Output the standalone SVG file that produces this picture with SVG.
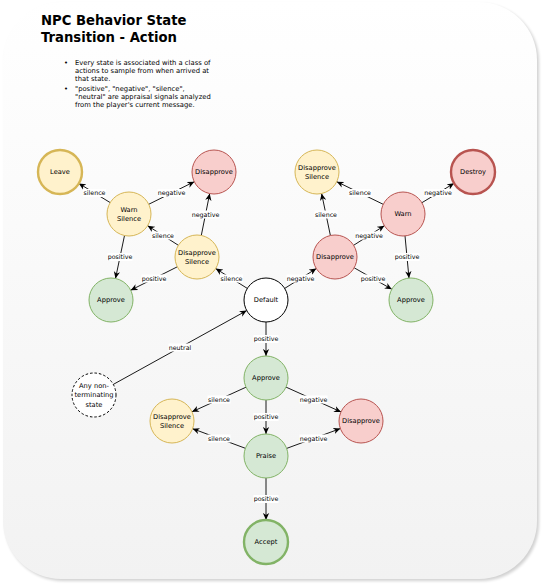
<svg xmlns="http://www.w3.org/2000/svg" width="542" height="586" viewBox="0 0 542 586">
<style>
.title{font-family:"DejaVu Sans",Verdana,sans-serif;font-weight:bold;font-size:13.2px;fill:#000}
.note{font-family:"DejaVu Sans",Verdana,sans-serif;font-size:6.8px;fill:#000}
.nl{font-family:"DejaVu Sans",Verdana,sans-serif;font-size:6.7px;fill:#000;text-anchor:middle}
.el{font-family:"DejaVu Sans",Verdana,sans-serif;font-size:6.3px;fill:#000;text-anchor:middle}
.lb{fill:#fff}
.e{stroke:#000;stroke-width:0.9;fill:none;marker-end:url(#arr)}
.y{fill:#fff2cc;stroke:#d6b656;stroke-width:1}
.r{fill:#f8cecc;stroke:#b85450;stroke-width:1}
.g{fill:#d5e8d4;stroke:#82b366;stroke-width:1}
.w{fill:#fff;stroke:#000;stroke-width:1}
.thick{stroke-width:2.4}
.dash{fill:#fff;stroke:#000;stroke-width:1;stroke-dasharray:2.5 2}
</style>
<defs>
<linearGradient id="bg" x1="0" y1="0" x2="0" y2="1">
<stop offset="0" stop-color="#ffffff"/>
<stop offset="1" stop-color="#f2f2f2"/>
</linearGradient>
<filter id="sh" x="-5%" y="-5%" width="110%" height="110%">
<feGaussianBlur stdDeviation="1.5"/>
</filter>
<marker id="arr" viewBox="0 0 10 10" refX="10" refY="5" markerWidth="7" markerHeight="7" markerUnits="userSpaceOnUse" orient="auto">
<path d="M0,0.5 L10,5 L0,9.5 L3,5 Z" fill="#000"/>
</marker>
</defs>
<g id="background">
<rect x="5" y="4" width="534" height="577" rx="58" ry="58" fill="#000" opacity="0.18" filter="url(#sh)"/>
<rect x="3" y="2" width="534" height="577" rx="58" ry="58" fill="url(#bg)"/>
</g>
<g id="title">
<text class="title" x="41" y="24.5">NPC Behavior State</text>
<text class="title" x="41" y="42">Transition - Action</text>
<text class="note" x="64" y="65">•</text>
<text class="note" x="75" y="65">Every state is associated with a class of</text>
<text class="note" x="75" y="73">actions to sample from when arrived at</text>
<text class="note" x="75" y="81">that state.</text>
<text class="note" x="64" y="91">•</text>
<text class="note" x="75" y="91">"positive", "negative", "silence",</text>
<text class="note" x="75" y="99">"neutral" are appraisal signals analyzed</text>
<text class="note" x="75" y="107">from the player's current message.</text>
</g>
<g id="connectors">
<path class="e" d="M110.2,202.6 L78.8,183.4"/>
<path class="e" d="M148.7,204.3 L194.3,181.7"/>
<path class="e" d="M201.3,235.4 L209.7,193.6"/>
<path class="e" d="M178.4,245.3 L147.6,225.7"/>
<path class="e" d="M124.5,235.5 L115.5,278.5"/>
<path class="e" d="M177.3,266.8 L130.7,290.2"/>
<path class="e" d="M247.3,288.4 L215.7,268.6"/>
<path class="e" d="M284.7,288.4 L316.3,268.6"/>
<path class="e" d="M330.4,235.5 L321.6,193.5"/>
<path class="e" d="M353.6,245.3 L384.4,225.7"/>
<path class="e" d="M383.2,204.3 L336.8,181.7"/>
<path class="e" d="M421.9,202.7 L454.1,183.3"/>
<path class="e" d="M405,235.9 L409,278.1"/>
<path class="e" d="M354.2,267.8 L391.8,289.2"/>
<path class="e" d="M113.3,384.4 L246.7,310.6"/>
<path class="e" d="M266,322 L266,356"/>
<path class="e" d="M246,387.2 L192,411.8"/>
<path class="e" d="M286,387.1 L341,411.9"/>
<path class="e" d="M266,400 L266,434"/>
<path class="e" d="M245.4,448.3 L192.6,428.7"/>
<path class="e" d="M286.7,448.4 L340.3,428.6"/>
<path class="e" d="M266,478 L266,520"/>
<g id="edge-labels">
<rect class="lb" x="83" y="189" width="23" height="8"/><text class="el" x="94.5" y="195.3">silence</text>
<rect class="lb" x="157.5" y="189" width="28" height="8"/><text class="el" x="171.5" y="195.3">negative</text>
<rect class="lb" x="191.5" y="210.5" width="28" height="8"/><text class="el" x="205.5" y="216.8">negative</text>
<rect class="lb" x="151.5" y="231.5" width="23" height="8"/><text class="el" x="163" y="237.8">silence</text>
<rect class="lb" x="107.5" y="253" width="25" height="8"/><text class="el" x="120" y="259.3">positive</text>
<rect class="lb" x="141.5" y="274.5" width="25" height="8"/><text class="el" x="154" y="280.8">positive</text>
<rect class="lb" x="220" y="274.5" width="23" height="8"/><text class="el" x="231.5" y="280.8">silence</text>
<rect class="lb" x="286.5" y="274.5" width="28" height="8"/><text class="el" x="300.5" y="280.8">negative</text>
<rect class="lb" x="314.5" y="210.5" width="23" height="8"/><text class="el" x="326" y="216.8">silence</text>
<rect class="lb" x="355" y="231.5" width="28" height="8"/><text class="el" x="369" y="237.8">negative</text>
<rect class="lb" x="348.5" y="189" width="23" height="8"/><text class="el" x="360" y="195.3">silence</text>
<rect class="lb" x="424" y="189" width="28" height="8"/><text class="el" x="438" y="195.3">negative</text>
<rect class="lb" x="394.5" y="253" width="25" height="8"/><text class="el" x="407" y="259.3">positive</text>
<rect class="lb" x="360.5" y="274.5" width="25" height="8"/><text class="el" x="373" y="280.8">positive</text>
<rect class="lb" x="168.5" y="343.5" width="23" height="8"/><text class="el" x="180" y="349.8">neutral</text>
<rect class="lb" x="253.5" y="335" width="25" height="8"/><text class="el" x="266" y="341.3">positive</text>
<rect class="lb" x="207.5" y="395.5" width="23" height="8"/><text class="el" x="219" y="401.8">silence</text>
<rect class="lb" x="299.5" y="395.5" width="28" height="8"/><text class="el" x="313.5" y="401.8">negative</text>
<rect class="lb" x="253.5" y="413" width="25" height="8"/><text class="el" x="266" y="419.3">positive</text>
<rect class="lb" x="207.5" y="434.5" width="23" height="8"/><text class="el" x="219" y="440.8">silence</text>
<rect class="lb" x="299.5" y="434.5" width="28" height="8"/><text class="el" x="313.5" y="440.8">negative</text>
<rect class="lb" x="253.5" y="495" width="25" height="8"/><text class="el" x="266" y="501.3">positive</text>
</g>
</g>
<g id="node-leave"><circle class="y thick" cx="60" cy="172" r="22"/><text class="nl" x="60" y="174.4">Leave</text></g>
<g id="node-disapprove-tl"><circle class="r" cx="214" cy="172" r="22"/><text class="nl" x="214" y="174.4">Disapprove</text></g>
<g id="node-warn-silence"><circle class="y" cx="129" cy="214" r="22"/><text class="nl" x="129" y="211.8">Warn</text><text class="nl" x="129" y="221">Silence</text></g>
<g id="node-disapprove-silence-l"><circle class="y" cx="197" cy="257" r="22"/><text class="nl" x="197" y="254.8">Disapprove</text><text class="nl" x="197" y="264">Silence</text></g>
<g id="node-approve-l"><circle class="g" cx="111" cy="300" r="22"/><text class="nl" x="111" y="302.4">Approve</text></g>
<g id="node-default"><circle class="w" cx="266" cy="300" r="22"/><text class="nl" x="266" y="302.4">Default</text></g>
<g id="node-disapprove-silence-tr"><circle class="y" cx="317" cy="172" r="22"/><text class="nl" x="317" y="169.8">Disapprove</text><text class="nl" x="317" y="179">Silence</text></g>
<g id="node-destroy"><circle class="r thick" cx="473" cy="172" r="22"/><text class="nl" x="473" y="174.4">Destroy</text></g>
<g id="node-warn"><circle class="r" cx="403" cy="214" r="22"/><text class="nl" x="403" y="216.4">Warn</text></g>
<g id="node-disapprove-r"><circle class="r" cx="335" cy="257" r="22"/><text class="nl" x="335" y="259.4">Disapprove</text></g>
<g id="node-approve-r"><circle class="g" cx="411" cy="300" r="22"/><text class="nl" x="411" y="302.4">Approve</text></g>
<g id="node-any"><circle class="dash" cx="94" cy="395" r="22"/><text class="nl" x="94" y="388">Any non-</text><text class="nl" x="94" y="397.4">terminating</text><text class="nl" x="94" y="406.8">state</text></g>
<g id="node-approve-c"><circle class="g" cx="266" cy="378" r="22"/><text class="nl" x="266" y="380.4">Approve</text></g>
<g id="node-disapprove-silence-b"><circle class="y" cx="172" cy="421" r="22"/><text class="nl" x="172" y="418.8">Disapprove</text><text class="nl" x="172" y="428">Silence</text></g>
<g id="node-disapprove-b"><circle class="r" cx="361" cy="421" r="22"/><text class="nl" x="361" y="423.4">Disapprove</text></g>
<g id="node-praise"><circle class="g" cx="266" cy="456" r="22"/><text class="nl" x="266" y="458.4">Praise</text></g>
<g id="node-accept"><circle class="g thick" cx="266" cy="542" r="22"/><text class="nl" x="266" y="544.4">Accept</text></g>
</svg>
